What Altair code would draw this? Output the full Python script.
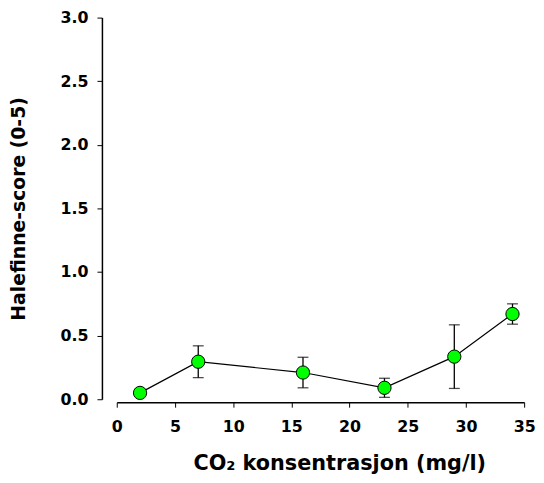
import altair as alt
import pandas as pd

# CO2 concentration (mg/l) and mean fin-rot score with error
co2 = [2, 7, 16, 23, 29, 34]
score = [0.05, 0.295, 0.21, 0.09, 0.335, 0.67]
err = [0.02, 0.125, 0.12, 0.075, 0.25, 0.08]

x_ticks = [0, 5, 10, 15, 20, 25, 30, 35]
y_ticks = [0.0, 0.5, 1.0, 1.5, 2.0, 2.5, 3.0]

df = pd.DataFrame({"co2": co2, "score": score, "err": err})
df["lo"] = df["score"] - df["err"]
df["hi"] = df["score"] + df["err"]

FONT = "DejaVu Sans"

x_enc = alt.X(
    "co2:Q",
    scale=alt.Scale(domain=[0, 35], nice=False, zero=False),
    axis=alt.Axis(
        values=x_ticks,
        title="CO\u2082 konsentrasjon (mg/l)",
        titleFontSize=21,
        titleFontWeight="bold",
        titleFont=FONT,
        titleColor="black",
        titlePadding=18,
        titleX=225,
        labelFont=FONT,
        labelFontSize=16,
        labelFontWeight="bold",
        labelColor="black",
        labelPadding=12,
        labelFlush=False,
        tickColor="black",
        tickSize=5,
        domainColor="black",
        domainWidth=1.5,
        grid=False,
        offset=3,
    ),
)

y_enc = alt.Y(
    "score:Q",
    scale=alt.Scale(domain=[0, 3], nice=False),
    axis=alt.Axis(
        values=y_ticks,
        format=".1f",
        title="Halefinne-score (0-5)",
        titleFontSize=19,
        titleFontWeight="bold",
        titleFont=FONT,
        titleColor="black",
        titlePadding=32,
        labelFont=FONT,
        labelFontSize=16,
        labelFontWeight="bold",
        labelColor="black",
        labelPadding=9,
        labelFlush=False,
        tickColor="black",
        tickSize=5,
        domainColor="black",
        domainWidth=1.5,
        grid=False,
        offset=15,
    ),
)

base = alt.Chart(df)

bars = base.mark_rule(color="black", strokeWidth=1.3).encode(
    x=x_enc, y=alt.Y("lo:Q"), y2="hi:Q"
)
cap_hi = base.mark_tick(color="black", orient="horizontal", size=11, thickness=1.3).encode(
    x="co2:Q", y="hi:Q"
)
cap_lo = base.mark_tick(color="black", orient="horizontal", size=11, thickness=1.3).encode(
    x="co2:Q", y="lo:Q"
)
line = base.mark_line(color="black", strokeWidth=1.2).encode(x="co2:Q", y=y_enc)
points = base.mark_point(
    shape="circle", filled=True, fill="#00ff00", stroke="black", strokeWidth=1, size=180, opacity=1
).encode(x="co2:Q", y="score:Q")

chart = (
    alt.layer(bars, cap_hi, cap_lo, line, points)
    .properties(
        width=412,
        height=386,
        padding={"left": 110, "top": 7, "right": 12, "bottom": 82},
        autosize=alt.AutoSizeParams(type="none"),
        view=alt.ViewBackground(strokeOpacity=0, strokeWidth=0),
    )
    .configure_view(stroke="transparent", strokeWidth=0)
    .configure(background="white")
)

chart.save("out.html", embed_options={"renderer": "svg", "actions": False})
